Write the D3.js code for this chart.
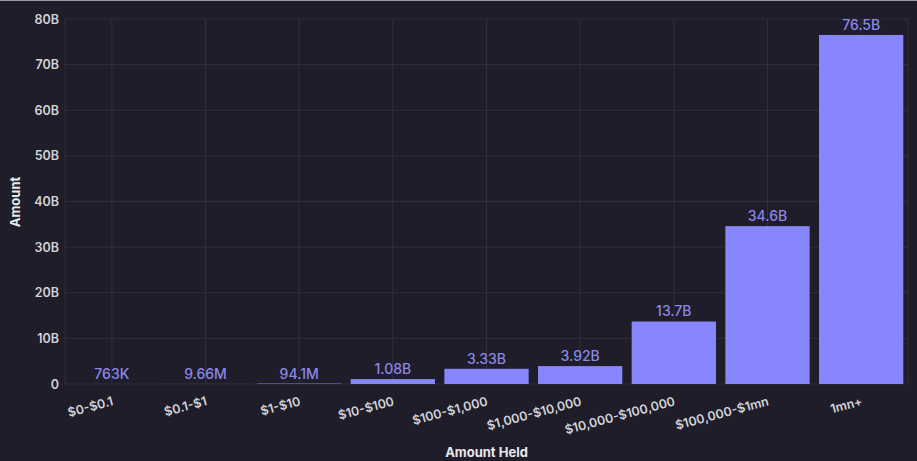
<html><head>
  <script src="https://d3js.org/d3.v7.min.js"></script>
  <style>
    body { margin: 0; background: #1e1d29; overflow: hidden; }
    text { font-family: Inter, 'Noto Sans', sans-serif; }
  </style>
</head>
<body>
  <script>
    // Data
    const categories = ["$0-$0.1", "$0.1-$1", "$1-$10", "$10-$100", "$100-$1,000",
                        "$1,000-$10,000", "$10,000-$100,000", "$100,000-$1mn", "1mn+"]
    const amounts = [763e3, 9.66e6, 94.1e6, 1.08e9, 3.33e9, 3.92e9, 13.7e9, 34.6e9, 76.5e9]
    const valueLabels = ["763K", "9.66M", "94.1M", "1.08B", "3.33B", "3.92B", "13.7B", "34.6B", "76.5B"]
    const yTicks = [0, 10e9, 20e9, 30e9, 40e9, 50e9, 60e9, 70e9, 80e9]
    const yTickLabels = ["0", "10B", "20B", "30B", "40B", "50B", "60B", "70B", "80B"]

    const data = categories.map((c, i) => ({cat: c, value: amounts[i], label: valueLabels[i]}))

    const width = 917, height = 461
    const margin = {top: 19, right: 9, bottom: 77, left: 65}

    const svg = d3.select("body").append("svg")
                  .attr("width", width)
                  .attr("height", height)
                  .style("background", "#1e1d29")

    const x = d3.scaleBand()
                .domain(categories)
                .range([margin.left, width - margin.right])
                .paddingInner(0.1)
                .paddingOuter(0.05)
    const y = d3.scaleLinear()
                .domain([0, 80e9])
                .range([height - margin.bottom, margin.top])

    // grid
    const grid = svg.append("g")
    grid.selectAll(".hgrid").data(yTicks)
        .join("line")
        .attr("x1", margin.left)
        .attr("x2", width - margin.right)
        .attr("y1", d => y(d))
        .attr("y2", d => y(d))
        .attr("stroke", "#302f3c")
        .attr("stroke-width", 1)
    grid.selectAll(".vgrid").data(categories)
        .join("line")
        .attr("x1", d => x(d) + x.bandwidth() / 2)
        .attr("x2", d => x(d) + x.bandwidth() / 2)
        .attr("y1", y(80e9))
        .attr("y2", y(0))
        .attr("stroke", "#302f3c")
    grid.append("line")
        .attr("x1", margin.left).attr("x2", margin.left)
        .attr("y1", y(80e9)).attr("y2", y(0))
        .attr("stroke", "#302f3c")
    grid.append("line")
        .attr("x1", width - margin.right).attr("x2", width - margin.right)
        .attr("y1", y(80e9)).attr("y2", y(0))
        .attr("stroke", "#302f3c")

    // y axis
    const yAxis = d3.axisLeft(y)
                    .tickValues(yTicks)
                    .tickFormat((d, i) => yTickLabels[i])
                    .tickSize(0)
                    .tickPadding(6)
    svg.append("g")
       .attr("transform", `translate(${margin.left},0)`)
       .call(yAxis)
       .call(g => g.select(".domain").remove())
       .selectAll("text")
       .attr("fill", "#d2d2d8")
       .style("font-size", "12.5px")
       .style("font-weight", 600)

    // x axis
    const xAxis = d3.axisBottom(x).tickSize(0).tickPadding(0)
    svg.append("g")
       .attr("transform", `translate(0,${y(0)})`)
       .call(xAxis)
       .call(g => g.select(".domain").remove())
       .selectAll("text")
       .attr("fill", "#d2d2d8")
       .attr("text-anchor", "end")
       .attr("dy", 0)
       .attr("transform", "translate(2,21) rotate(-15)")
       .style("font-size", "12.5px")
       .style("font-weight", 600)

    // bars
    svg.append("g").selectAll("rect").data(data)
       .join("rect")
       .attr("x", d => x(d.cat))
       .attr("y", d => y(d.value))
       .attr("width", x.bandwidth())
       .attr("height", d => y(0) - y(d.value))
       .attr("fill", "#8886fc")

    svg.append("g").selectAll("text").data(data)
       .join("text")
       .attr("x", d => x(d.cat) + x.bandwidth() / 2)
       .attr("y", d => y(d.value) - 5)
       .attr("text-anchor", "middle")
       .attr("fill", "#8b88e6")
       .style("font-size", "14px")
       .style("font-weight", 500)
       .text(d => d.label)

    // axis titles
    svg.append("text")
       .attr("transform", "translate(20,202) rotate(-90)")
       .attr("text-anchor", "middle")
       .attr("fill", "#e8e8ec")
       .style("font-size", "13px")
       .style("font-weight", 700)
       .text("Amount")
    svg.append("text")
       .attr("x", (margin.left + width - margin.right) / 2)
       .attr("y", 457)
       .attr("text-anchor", "middle")
       .attr("fill", "#e8e8ec")
       .style("font-size", "13px")
       .style("font-weight", 700)
       .text("Amount Held")

    // frame edge
    svg.append("line")
       .attr("x1", 0).attr("x2", width)
       .attr("y1", 0.5).attr("y2", 0.5)
       .attr("stroke", "#9a9aa0")
  </script>
</body></html>
